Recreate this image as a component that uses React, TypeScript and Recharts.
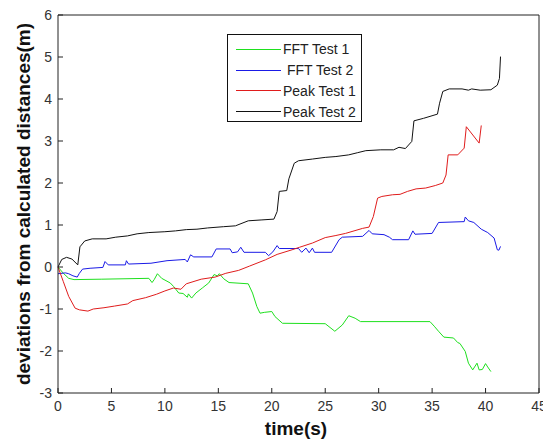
import { LineChart, Line, XAxis, YAxis, Legend, Label } from "recharts";

const xTicks = [0, 5, 10, 15, 20, 25, 30, 35, 40, 45];
const yTicks = [-3, -2, -1, 0, 1, 2, 3, 4, 5, 6];
const seriesNames = ["FFT Test 1", " FFT Test 2", "Peak Test 1", "Peak Test 2"];

// values (t in s, y in m)
const fftTest1 = [
  { t: 0, y: 0 }, { t: 0.5, y: -0.15 }, { t: 1.0, y: -0.27 }, { t: 1.5, y: -0.3 },
  { t: 4.1, y: -0.29 }, { t: 8.5, y: -0.27 }, { t: 8.8, y: -0.37 }, { t: 9.0, y: -0.3 },
  { t: 9.3, y: -0.16 }, { t: 9.7, y: -0.27 }, { t: 10.5, y: -0.38 }, { t: 10.8, y: -0.46 },
  { t: 11.3, y: -0.62 }, { t: 11.7, y: -0.63 }, { t: 12.1, y: -0.72 }, { t: 12.2, y: -0.64 },
  { t: 12.5, y: -0.74 }, { t: 12.9, y: -0.62 }, { t: 13.5, y: -0.5 }, { t: 14.1, y: -0.38 },
  { t: 14.6, y: -0.18 }, { t: 14.9, y: -0.21 }, { t: 15.1, y: -0.16 }, { t: 15.5, y: -0.28 },
  { t: 16.0, y: -0.37 }, { t: 17.8, y: -0.4 }, { t: 18.2, y: -0.62 }, { t: 18.6, y: -0.94 },
  { t: 18.9, y: -1.1 }, { t: 19.3, y: -1.08 }, { t: 20.0, y: -1.06 }, { t: 20.3, y: -1.18 },
  { t: 21.0, y: -1.34 }, { t: 25.0, y: -1.35 }, { t: 25.9, y: -1.53 }, { t: 26.6, y: -1.38 },
  { t: 27.2, y: -1.16 }, { t: 27.8, y: -1.22 }, { t: 28.3, y: -1.3 }, { t: 34.8, y: -1.3 },
  { t: 35.2, y: -1.41 }, { t: 35.6, y: -1.53 }, { t: 36.1, y: -1.67 }, { t: 37.0, y: -1.69 },
  { t: 37.4, y: -1.8 }, { t: 37.6, y: -1.82 }, { t: 38.1, y: -2.01 }, { t: 38.4, y: -2.29 },
  { t: 38.8, y: -2.45 }, { t: 39.2, y: -2.29 }, { t: 39.4, y: -2.45 }, { t: 39.7, y: -2.44 },
  { t: 40.0, y: -2.3 }, { t: 40.2, y: -2.38 }, { t: 40.5, y: -2.49 },
];

const fftTest2 = [
  { t: 0, y: -0.16 }, { t: 0.7, y: -0.14 }, { t: 1.0, y: -0.16 }, { t: 1.4, y: -0.21 },
  { t: 1.8, y: -0.24 }, { t: 2.0, y: -0.15 }, { t: 2.3, y: -0.05 }, { t: 3.0, y: -0.03 },
  { t: 4.2, y: -0.01 }, { t: 4.4, y: 0.13 }, { t: 4.7, y: 0.05 }, { t: 6.3, y: 0.05 },
  { t: 6.4, y: 0.15 }, { t: 6.6, y: 0.07 }, { t: 8.7, y: 0.09 }, { t: 10.2, y: 0.15 },
  { t: 11.9, y: 0.18 }, { t: 12.1, y: 0.12 }, { t: 12.4, y: 0.29 }, { t: 12.7, y: 0.24 },
  { t: 14.4, y: 0.24 }, { t: 14.8, y: 0.43 }, { t: 16.1, y: 0.43 }, { t: 16.3, y: 0.34 },
  { t: 16.8, y: 0.36 }, { t: 17.1, y: 0.47 }, { t: 17.4, y: 0.35 }, { t: 19.4, y: 0.35 },
  { t: 19.7, y: 0.27 }, { t: 20.1, y: 0.36 }, { t: 20.5, y: 0.51 }, { t: 20.7, y: 0.44 },
  { t: 22.5, y: 0.44 }, { t: 22.8, y: 0.35 }, { t: 23.2, y: 0.45 }, { t: 23.5, y: 0.34 },
  { t: 23.8, y: 0.45 }, { t: 24.0, y: 0.35 }, { t: 25.6, y: 0.35 }, { t: 26.3, y: 0.65 },
  { t: 26.6, y: 0.71 }, { t: 28.5, y: 0.73 }, { t: 29.1, y: 0.87 }, { t: 29.4, y: 0.79 },
  { t: 30.5, y: 0.77 }, { t: 31.0, y: 0.71 }, { t: 31.3, y: 0.65 }, { t: 32.8, y: 0.65 },
  { t: 33.2, y: 0.86 }, { t: 33.4, y: 0.78 }, { t: 35.0, y: 0.8 }, { t: 35.6, y: 1.06 },
  { t: 38.0, y: 1.08 }, { t: 38.1, y: 1.19 }, { t: 38.4, y: 1.1 }, { t: 38.9, y: 1.06 },
  { t: 39.6, y: 0.9 }, { t: 40.2, y: 0.82 }, { t: 40.8, y: 0.69 }, { t: 41.1, y: 0.41 },
  { t: 41.25, y: 0.4 }, { t: 41.4, y: 0.49 },
];

const peakTest1 = [
  { t: 0, y: 0 }, { t: 0.5, y: -0.35 }, { t: 1.0, y: -0.7 }, { t: 1.6, y: -0.98 },
  { t: 2.0, y: -1.02 }, { t: 2.8, y: -1.05 }, { t: 3.3, y: -1.0 }, { t: 4.3, y: -0.97 },
  { t: 5.3, y: -0.93 }, { t: 6.5, y: -0.88 }, { t: 7.0, y: -0.8 }, { t: 8.2, y: -0.73 },
  { t: 9.2, y: -0.65 }, { t: 10.0, y: -0.57 }, { t: 10.8, y: -0.5 }, { t: 11.5, y: -0.53 },
  { t: 12.0, y: -0.4 }, { t: 13.4, y: -0.29 }, { t: 14.7, y: -0.24 }, { t: 15.7, y: -0.15 },
  { t: 16.9, y: -0.08 }, { t: 17.9, y: 0.02 }, { t: 19.4, y: 0.17 }, { t: 20.5, y: 0.3 },
  { t: 21.9, y: 0.41 }, { t: 22.6, y: 0.47 }, { t: 23.8, y: 0.57 }, { t: 25.0, y: 0.7 },
  { t: 26.0, y: 0.75 }, { t: 26.9, y: 0.8 }, { t: 28.5, y: 0.92 }, { t: 29.1, y: 0.95 },
  { t: 29.5, y: 1.2 }, { t: 29.9, y: 1.64 }, { t: 30.3, y: 1.68 }, { t: 31.3, y: 1.72 },
  { t: 32.0, y: 1.73 }, { t: 32.7, y: 1.8 }, { t: 33.5, y: 1.86 }, { t: 34.4, y: 1.88 },
  { t: 35.3, y: 1.94 }, { t: 36.0, y: 2.0 }, { t: 36.3, y: 2.19 }, { t: 36.5, y: 2.67 },
  { t: 37.4, y: 2.67 }, { t: 38.0, y: 2.83 }, { t: 38.2, y: 3.34 }, { t: 39.4, y: 2.95 },
  { t: 39.6, y: 3.37 },
];

const peakTest2 = [
  { t: 0, y: 0 }, { t: 0.35, y: 0.18 }, { t: 0.8, y: 0.23 }, { t: 1.3, y: 0.19 },
  { t: 1.85, y: 0.05 }, { t: 2.05, y: 0.48 }, { t: 2.5, y: 0.62 }, { t: 3.2, y: 0.67 },
  { t: 4.5, y: 0.67 }, { t: 5.4, y: 0.71 }, { t: 6.5, y: 0.74 }, { t: 7.4, y: 0.79 },
  { t: 8.5, y: 0.82 }, { t: 10.0, y: 0.84 }, { t: 11.0, y: 0.86 }, { t: 12.0, y: 0.89 },
  { t: 13.0, y: 0.9 }, { t: 14.0, y: 0.93 }, { t: 15.5, y: 0.96 }, { t: 16.6, y: 0.98 },
  { t: 17.8, y: 1.1 }, { t: 19.0, y: 1.12 }, { t: 20.2, y: 1.14 }, { t: 20.5, y: 1.32 },
  { t: 20.7, y: 1.8 }, { t: 21.4, y: 1.82 }, { t: 21.6, y: 2.1 }, { t: 22.1, y: 2.47 },
  { t: 22.5, y: 2.53 }, { t: 23.8, y: 2.57 }, { t: 25.0, y: 2.61 }, { t: 26.0, y: 2.63 },
  { t: 27.2, y: 2.67 }, { t: 28.0, y: 2.72 }, { t: 28.8, y: 2.77 }, { t: 30.2, y: 2.79 },
  { t: 31.4, y: 2.79 }, { t: 31.9, y: 2.85 }, { t: 32.5, y: 2.82 }, { t: 33.1, y: 2.99 },
  { t: 33.3, y: 3.48 }, { t: 34.2, y: 3.54 }, { t: 35.5, y: 3.64 }, { t: 35.7, y: 3.9 },
  { t: 36.0, y: 4.18 }, { t: 36.6, y: 4.24 }, { t: 37.8, y: 4.24 }, { t: 38.4, y: 4.21 },
  { t: 38.7, y: 4.24 }, { t: 39.5, y: 4.21 }, { t: 40.5, y: 4.22 }, { t: 41.1, y: 4.33 },
  { t: 41.3, y: 4.49 }, { t: 41.4, y: 5.01 },
];

const font = "'Liberation Sans', Arial, sans-serif";
const frame = "#222";

const BottomTick = ({ x, y, payload }: any) => (
  <g>
    <line x1={x} y1={y} x2={x} y2={y - 5} stroke={frame} />
    <text x={x} y={y + 18} textAnchor="middle" fontSize={14} fill="#333" fontFamily={font}>
      {payload.value}
    </text>
  </g>
);

const LeftTick = ({ x, y, payload }: any) => (
  <g>
    <line x1={x} y1={y} x2={x + 5} y2={y} stroke={frame} />
    <text x={x - 6} y={y + 5} textAnchor="end" fontSize={14} fill="#333" fontFamily={font}>
      {payload.value}
    </text>
  </g>
);

const LegendBox = ({ payload }: any) => {
  const items = [...(payload || [])].sort(
    (a: any, b: any) => seriesNames.indexOf(a.value) - seriesNames.indexOf(b.value)
  );
  return (
    <div
      style={{
        width: 135,
        height: 88,
        boxSizing: "border-box",
        border: "1px solid #111",
        background: "#fff",
        fontFamily: font,
        fontSize: 14,
        color: "#222",
        paddingTop: 4,
      }}
    >
      {items.map((p: any) => (
        <div key={p.value} style={{ display: "flex", alignItems: "center", height: 20.8 }}>
          <div style={{ marginLeft: 8, width: 45, height: 0, borderTop: `1px solid ${p.color}` }} />
          <span style={{ marginLeft: 2, whiteSpace: "pre", lineHeight: "16px" }}>{p.value}</span>
        </div>
      ))}
    </div>
  );
};

export default function App() {
  return (
    <div style={{ position: "absolute", left: 0, top: 0, background: "#fff" }}>
      <LineChart width={543} height={439} margin={{ top: 15, right: 4, left: 0, bottom: 0 }}>
        <XAxis
          dataKey="t"
          type="number"
          domain={[0, 45]}
          ticks={xTicks}
          interval={0}
          height={46}
          tickSize={0}
          tickMargin={0}
          tickLine={false}
          axisLine={{ stroke: frame }}
          tick={<BottomTick />}
        >
          <Label
            content={() => (
              <text x={296} y={435} textAnchor="middle" fontSize={19} fontWeight="bold" fill="#111" fontFamily={font}>
                time(s)
              </text>
            )}
          />
        </XAxis>
        <XAxis
          xAxisId="top"
          orientation="top"
          type="number"
          domain={[0, 45]}
          ticks={xTicks}
          interval={0}
          allowDataOverflow
          mirror
          tick={false}
          tickSize={5}
          tickLine={{ stroke: frame }}
          axisLine={{ stroke: frame }}
        />
        <YAxis
          type="number"
          domain={[-3, 6]}
          ticks={yTicks}
          interval={0}
          width={58}
          tickSize={0}
          tickMargin={0}
          tickLine={false}
          axisLine={{ stroke: frame }}
          tick={<LeftTick />}
        >
          <Label
            content={() => (
              <text
                x={30}
                y={204}
                transform="rotate(-90, 30, 204)"
                textAnchor="middle"
                fontSize={19}
                fontWeight="bold"
                fill="#111"
                fontFamily={font}
              >
                deviations from calculated distances(m)
              </text>
            )}
          />
        </YAxis>
        <YAxis
          yAxisId="right"
          orientation="right"
          type="number"
          domain={[-3, 6]}
          ticks={yTicks}
          interval={0}
          allowDataOverflow
          mirror
          tick={false}
          tickSize={5}
          tickLine={{ stroke: frame }}
          axisLine={{ stroke: frame }}
        />
        <Legend
          layout="vertical"
          align="center"
          verticalAlign="middle"
          wrapperStyle={{ left: 227, top: 34, width: 135 }}
          content={<LegendBox />}
        />
        <Line data={fftTest1} dataKey="y" name={seriesNames[0]} stroke="#1ee01e" strokeWidth={1} dot={false} isAnimationActive={false} />
        <Line data={fftTest2} dataKey="y" name={seriesNames[1]} stroke="#1a1ae6" strokeWidth={1} dot={false} isAnimationActive={false} />
        <Line data={peakTest1} dataKey="y" name={seriesNames[2]} stroke="#e01c1c" strokeWidth={1} dot={false} isAnimationActive={false} />
        <Line data={peakTest2} dataKey="y" name={seriesNames[3]} stroke="#111" strokeWidth={1} dot={false} isAnimationActive={false} />
      </LineChart>
    </div>
  );
}
